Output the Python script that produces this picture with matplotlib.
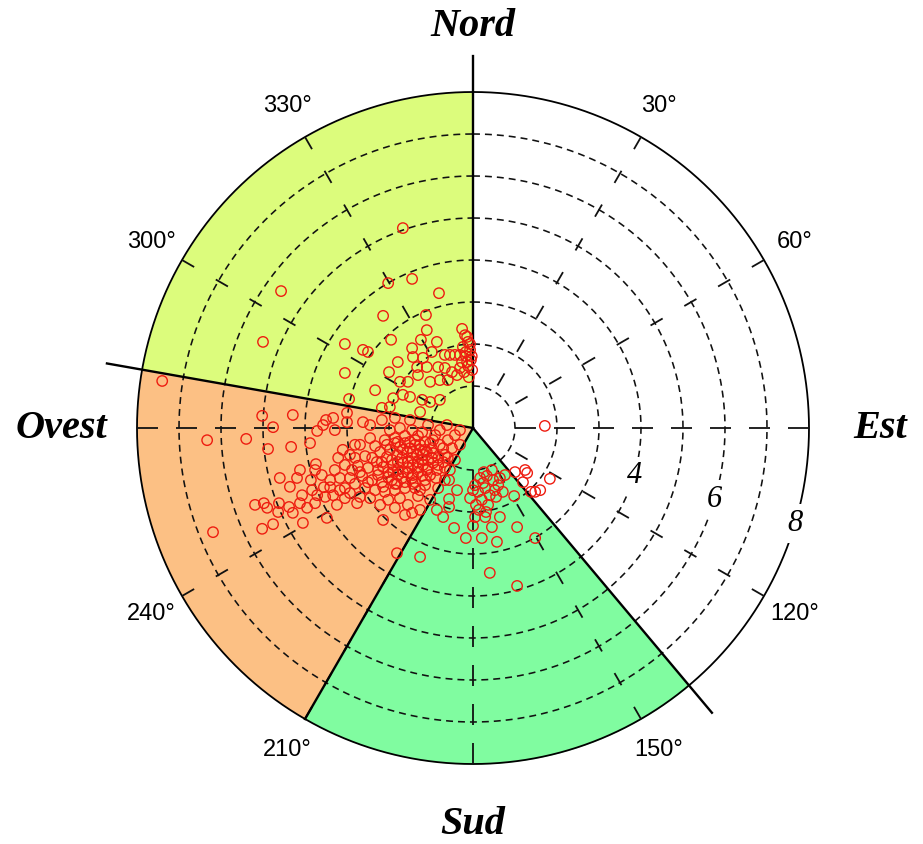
import numpy as np
import matplotlib
matplotlib.use("Agg")
import matplotlib.pyplot as plt

plt.rcParams['lines.scale_dashes'] = False

# Observations as east / north components (same units as the radial axis)
nw_east = [-1.67, -4.57, -5.00, -1.45, -2.02, -0.81, -2.14, -1.12, -1.10, -1.95,
           -1.24, -0.86, -0.26, -0.14, -3.05, -2.62, -1.45, -2.50, -1.43, -0.98,
           -1.19, -0.67, -0.55, -0.43, -0.31, -0.19, -0.12, -0.24, -0.07, -0.17,
           -0.05, -0.26, -0.12, -0.02, -0.21, -0.10, -0.17, -0.07, -0.31, -0.03,
           -0.14, -3.05, -2.00, -1.33, -1.10, -0.83, -0.67, -0.50, -0.38, -1.31,
           -1.02, -1.55, -1.74, -0.79, -0.60, -2.33, -2.95, -1.90, -1.67, -1.50,
           -1.21, -1.02, -0.79, -1.98, -1.79]
nw_north = [4.76, 3.26, 2.05, 3.55, 3.45, 3.21, 2.67, 2.69, 2.33, 2.10,
            2.10, 2.05, 2.36, 2.17, 2.00, 1.86, 1.90, 1.81, 1.69, 1.81,
            1.67, 1.74, 1.74, 1.74, 1.74, 2.21, 2.05, 1.93, 1.86, 1.71,
            1.62, 1.57, 1.48, 1.38, 1.33, 1.21, 1.81, 2.00, 1.43, 1.71,
            1.57, 1.31, 1.33, 1.45, 1.45, 1.45, 1.43, 1.33, 1.26, 1.26,
            1.10, 1.10, 1.10, 1.14, 1.14, 0.90, 0.69, 0.71, 0.79, 0.74,
            0.67, 0.62, 0.67, 0.50, 1.57]

w_east = [-7.40, -5.02, -4.29, -3.50, -4.76, -3.71, -6.33, -5.40, -4.88, -4.33,
          -3.88, -3.74, -4.60, -4.19, -3.29, -3.00, -3.00, -2.62, -2.81, -3.10,
          -2.17, -3.33, -3.57]
w_north = [1.12, 0.29, 0.31, 0.19, 0.02, -0.07, -0.29, -0.26, -0.50, -0.45,
           -0.36, -0.86, -1.19, -1.19, -0.05, 0.14, 0.36, 0.14, -0.40, -0.52,
           0.48, 0.24, 0.07]

sw_east = [-4.12, -4.36, -5.19, -5.02, -4.76, -4.05, -3.48, -2.14, -1.45, -1.81,
           -1.26, -6.19, -4.07, -3.86, -3.83, -3.71, -3.55, -3.52, -3.40, -3.33,
           -3.17, -3.05, -2.93, -2.76, -2.69, -4.98, -4.90, -4.62, -4.38, -4.12,
           -3.76, -3.95, -3.24, -4.64, -4.29]
sw_north = [-1.00, -1.40, -1.83, -2.40, -2.29, -2.26, -2.14, -2.19, -2.02, -2.98,
            -3.07, -2.48, -1.60, -1.24, -1.48, -1.60, -1.41, -1.64, -1.41, -1.60,
            -1.48, -1.67, -1.55, -1.79, -1.64, -1.79, -1.90, -1.79, -1.88, -1.79,
            -1.79, -1.90, -1.83, -2.00, -2.02]

core_east = [-2.10, -1.86, -1.62, -1.38, -1.14, -0.98, -1.26, -1.50, -1.74, -1.98,
             -2.21, -2.40, -2.17, -1.93, -1.69, -1.45, -1.21, -0.98, -0.83, -1.07,
             -1.31, -1.55, -1.79, -2.02, -2.26, -2.50, -2.64, -2.40, -2.17, -1.93,
             -1.69, -1.45, -1.21, -1.02, -1.14, -1.38, -1.62, -1.86, -2.10, -2.33,
             -2.57, -2.81, -2.93, -2.74, -2.57, -2.33, -1.74, -1.45, -1.21, -0.90,
             -0.79, -0.67, -0.88, -1.31, -1.74, -2.02, -2.45, -3.05, -3.17, -2.88,
             -2.69, -2.45, -1.98, -1.07, -0.60, -0.50, -1.55, -1.86, -2.21, -2.81,
             -3.05, -3.29, -3.21, -3.40, -3.60, -3.76, -2.93, -2.45, -2.17, -1.86,
             -1.50, -1.26, -0.79, -0.43, -0.31, -0.55, -0.67, -1.02, -1.26, -1.62,
             -1.81, -1.57, -1.33, -1.10, -2.05, -1.67, -1.43, -1.19, -1.90, -1.79,
             -1.55, -1.31, -2.02, -2.26, -1.62, -1.38, -1.86, -1.14, -0.95, -1.43,
             -1.81, -2.14, -2.50, -2.69,
             -1.67, -1.43, -1.19, -0.95, -0.83, -1.07, -1.55, -1.79, -1.31, -1.10,
             -0.86, -1.43, -1.67, -1.90, -2.14, -2.29, -2.05, -1.79, -1.50, -1.26,
             -1.02, -0.71, -0.71, -0.95, -1.31, -0.67, -1.14, -1.38, -1.62, -1.86,
             -1.26, -0.83, -0.60, -0.43, -0.62, -0.31]
core_north = [-0.29, -0.24, -0.19, -0.29, -0.33, -0.48, -0.52, -0.48, -0.45, -0.52,
              -0.57, -0.71, -0.81, -0.76, -0.71, -0.71, -0.76, -0.71, -0.88, -0.95,
              -0.95, -0.95, -1.00, -1.05, -1.00, -0.95, -1.14, -1.24, -1.29, -1.24,
              -1.19, -1.19, -1.14, -1.12, -1.36, -1.43, -1.43, -1.48, -1.52, -1.48,
              -1.43, -1.33, -1.19, -0.90, -0.67, -0.43, 0.00, -0.05, -0.10, -0.17,
              -0.40, -0.64, -1.19, -1.62, -1.67, -1.71, -1.67, -1.43, -1.19, -1.00,
              -0.40, -0.24, -0.05, 0.07, -0.29, -0.48, -1.83, -1.90, -1.83, -0.71,
              -0.88, -1.00, -0.71, -1.24, -1.12, -1.00, -0.64, 0.07, 0.19, 0.24,
              0.19, 0.38, -0.05, -0.17, -0.40, -1.00, -1.24, -1.71, -1.95, -2.07,
              -0.64, -0.57, -0.64, -0.57, -0.69, -0.83, -0.88, -0.88, -0.88, -1.12,
              -1.07, -1.05, -1.17, -1.12, -0.36, -0.40, -0.36, -0.52, -0.83, -1.33,
              -1.33, -1.40, -1.29, -1.05,
              -0.52, -0.57, -0.64, -0.60, -0.71, -0.76, -0.81, -0.81, -0.81, -1.00,
              -1.00, -1.12, -1.05, -1.05, -0.93, -0.81, -0.40, -0.33, -0.33, -0.40,
              -0.36, -0.48, -0.81, -0.29, -0.19, -0.95, -1.24, -1.29, -1.29, -1.33,
              -1.48, -1.43, -0.71, -0.76, 0.07, -0.05]

s_east = [1.00, 1.29, 1.19, 1.38, 1.48, 1.83, 0.76, 1.71, -0.57, -0.38,
          -0.57, -0.57, -0.86, -0.71, -0.45, -0.17, 0.21, 0.57, 0.45, 0.00,
          0.05, 0.29, 0.64, 0.98, 1.05, 1.48, 0.40, 1.05, 0.17, 0.33,
          0.48, 0.60, 0.29, 0.12, 0.40, 0.55, 0.21, 0.07, 0.36, 0.52,
          0.64, 0.05, 0.24, 0.45, 0.26, 0.71, 0.14, 0.31, -0.07, 0.00,
          1.24, 1.60]
s_north = [-1.05, -1.07, -1.29, -1.52, -1.52, -1.21, -1.12, 0.05, -1.24, -1.48,
           -1.69, -1.88, -1.95, -2.12, -2.38, -2.62, -2.62, -2.71, -2.36, -2.33,
           -2.12, -2.12, -2.12, -1.62, -2.36, -2.62, -3.45, -3.76, -1.19, -1.14,
           -1.24, -1.36, -1.43, -1.52, -1.60, -1.64, -1.71, -1.83, -1.83, -1.48,
           -1.19, -1.36, -1.31, -1.00, -1.05, -1.52, -1.95, -2.00, -1.67, -1.48,
           -1.00, -1.48]

# Direction sectors (compass degrees) and their fills
sector_bounds = [(280, 360), (210, 280), (140, 210)]
sector_colors = ['#DCFC7C', '#FCC084', '#80FCA0']
boundary_dirs = [0, 140, 280]      # solid separators running past the rim
inner_boundary_dirs = [210]        # separator stopping at the rim

ring_values = [1, 2, 3, 4, 5, 6, 7]
r_outer = 8
ring_labels = ['4', '6', '8']
ring_label_r = [4, 6, 8]
ring_label_dir = 106.5
angle_ticks = [30, 60, 120, 150, 210, 240, 300, 330]
cardinal_names = ['Nord', 'Est', 'Sud', 'Ovest']
cardinal_dirs = [0, 90, 180, 270]
cardinal_r = [9.55, 9.7, 9.45, 9.8]

W, H = 923, 844
fig = plt.figure(figsize=(W / 100, H / 100), dpi=100)
r_lim = 8.9
px_unit = 42.0
half = r_lim * px_unit
cx, cy = 473, H - 428
ax = fig.add_axes([(cx - half) / W, (cy - half) / H, 2 * half / W, 2 * half / H],
                  projection='polar')
ax.set_theta_zero_location('N')
ax.set_theta_direction(-1)
ax.set_ylim(0, r_lim)
ax.grid(False)
ax.set_xticks([])
ax.set_yticks([])
ax.spines['polar'].set_visible(False)
ax.patch.set_alpha(0)

# coloured sectors
for (a, b), c in zip(sector_bounds, sector_colors):
    th = np.radians(np.linspace(a, b, 200))
    ax.fill_between(th, 0, r_outer, color=c, lw=0, zorder=1)

full = np.linspace(0, 2 * np.pi, 721)
for r in ring_values:
    ax.plot(full, np.full_like(full, r), color='#111111', lw=1.15,
            dashes=(5.0, 3.6), zorder=2)
ax.plot(full, np.full_like(full, r_outer), color='black', lw=1.3, zorder=3)

# radial guide lines
pt = 0.72
for a in range(30, 360, 30):
    th = np.radians(a)
    if a % 90 == 0:
        start, on, off = 1.0, 21 * pt, 18 * pt
    else:
        start, on, off = 49 / px_unit, 14 * pt, 25 * pt
    ax.plot([th, th], [start, r_outer], color='#111111', lw=1.3,
            dashes=(on, off), solid_capstyle='butt', zorder=3)

for a in boundary_dirs:
    ax.plot([np.radians(a)] * 2, [0, 8.85], color='black', lw=1.7, zorder=4)
for a in inner_boundary_dirs:
    ax.plot([np.radians(a)] * 2, [0, r_outer], color='black', lw=1.7, zorder=4)

# observations
east = np.array(nw_east + w_east + sw_east + core_east + s_east)
north = np.array(nw_north + w_north + sw_north + core_north + s_north)
theta = np.arctan2(east, north)
rad = np.hypot(east, north)
ax.scatter(theta, rad, s=56, facecolors='none', edgecolors='#EE1C10',
           linewidths=1.0, zorder=6)

for a in angle_ticks:
    ax.text(np.radians(a), 8.85, f'{a}°', ha='center', va='center',
            fontsize=17, family='Liberation Sans', color='black')

for name, a, r in zip(cardinal_names, cardinal_dirs, cardinal_r):
    ax.text(np.radians(a), r, name, ha='center', va='center', fontsize=29,
            family='Liberation Serif', weight='bold', style='italic')

for s, r in zip(ring_labels, ring_label_r):
    ax.text(np.radians(ring_label_dir), r, s, ha='center', va='center',
            fontsize=22, family='Liberation Serif', style='italic', zorder=5,
            bbox=dict(boxstyle='square,pad=0.15', fc='white', ec='none'))

fig.savefig('out.png', dpi=100, facecolor='white')
